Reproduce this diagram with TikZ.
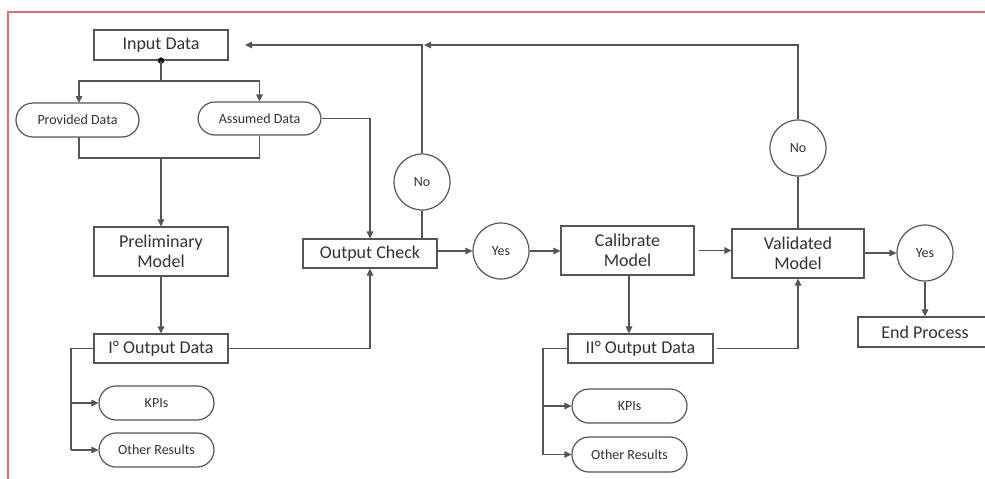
\documentclass[tikz,border=0pt]{standalone}
\usepackage{fontspec}
\setmainfont{Carlito}
\usetikzlibrary{arrows.meta}
\definecolor{lc}{RGB}{85,85,85}
\definecolor{tc}{RGB}{50,50,50}
\definecolor{fr}{RGB}{228,110,110}
\tikzset{
  every node/.style={text=tc},
  box/.style={draw=lc, line width=1.2pt, rectangle, inner sep=0pt, font=\fontsize{18}{19.5}\selectfont, align=center},
  pill/.style={draw=lc, line width=1.2pt, rectangle, rounded corners=17pt, inner sep=0pt, font=\fontsize{14}{16}\selectfont, minimum width=115pt, minimum height=34pt},
  circ/.style={draw=lc, line width=1.2pt, circle, inner sep=0pt, minimum size=56pt, font=\fontsize{14}{16}\selectfont},
  conn/.style={draw=lc, line width=1.2pt},
  arr/.style={conn, -{Triangle[length=7pt,width=6.5pt]}}
}
\begin{document}
\begin{tikzpicture}[x=1pt,y=-1pt]
\useasboundingbox (0,0) rectangle (985,479);
\clip (0,0) rectangle (985,479);
% frame
\draw[fr, line width=1.6pt] (8,479) -- (8,12) -- (990,12);
% nodes
\node[box, minimum width=134pt, minimum height=30pt] (input) at (161,45) {Input Data};
\node[pill, minimum width=123pt] (provided) at (77.5,120) {Provided Data};
\node[pill, minimum width=123pt, minimum height=33pt] (assumed) at (259.5,118.5) {Assumed Data};
\node[box, minimum width=134pt, minimum height=49pt] (prelim) at (161,251.5) {Preliminary\\Model};
\node[box, minimum width=134pt, minimum height=29pt] (out1) at (161,348.5) {I° Output Data};
\node[pill] (kpi1) at (156.5,403) {KPIs};
\node[pill] (other1) at (156.5,450) {Other Results};
\node[box, minimum width=134pt, minimum height=29pt] (check) at (370,253.5) {Output Check};
\node[circ] (no1) at (422,182) {No};
\node[circ] (yes1) at (501,251) {Yes};
\node[box, minimum width=133pt, minimum height=49pt] (calib) at (627.5,250.5) {Calibrate\\Model};
\node[box, minimum width=145pt, minimum height=29pt] (out2) at (640.5,348.5) {II° Output Data};
\node[pill] (kpi2) at (629.5,406) {KPIs};
\node[pill, minimum height=35pt] (other2) at (629.5,454.5) {Other Results};
\node[box, minimum width=132pt, minimum height=49pt] (valid) at (798,253.5) {Validated\\Model};
\node[circ] (no2) at (798,148) {No};
\node[circ] (yes2) at (925,253) {Yes};
\node[box, minimum width=134pt, minimum height=30pt] (endp) at (925,332) {End Process};
% helper coordinates
\coordinate (split) at (161,81);
\coordinate (join) at (161,158);
\coordinate (fb1) at (245,45);
\coordinate (fb2) at (424,45);
\coordinate (top1) at (422,45);
\coordinate (top2) at (798,45);
\coordinate (bus1) at (71,348.5);
\coordinate (bus2) at (543,348.5);
\coordinate (up1) at (370,348.5);
\coordinate (up2) at (798,348.5);
\coordinate (aa) at (370,118.5);
% connectors
\fill[black] (input.south) circle (3.2pt);
\draw[conn] (input.south) -- (split);
\draw[arr] (split) -| (79,103);
\draw[arr] (split) -| (assumed.north);
\draw[conn] (79,137) |- (join) -| (assumed.south);
\draw[arr] (join) -- (prelim.north);
\draw[arr] (prelim.south) -- (out1.north);
\draw[conn] (out1.west) -- (bus1) -- (bus1 |- other1.west);
\draw[arr] (bus1 |- kpi1.west) -- (kpi1.west);
\draw[arr] (bus1 |- other1.west) -- (other1.west);
\draw[arr] (out1.east) -- (up1) -- (check.south);
\draw[arr] (assumed.east) -- (aa) -- (check.north);
\draw[conn] (check.north -| no1.south) -- (no1.south);
\draw[arr] (no1.north) -- (top1) -- (fb1);
\draw[arr] (check.east |- yes1.west) -- (yes1.west);
\draw[arr] (yes1.east) -- (yes1.east -| calib.west);
\draw[arr] (calib.south -| 629,0) -- (out2.north -| 629,0);
\draw[conn] (out2.west) -- (bus2) -- (bus2 |- other2.west);
\draw[arr] (bus2 |- kpi2.west) -- (kpi2.west);
\draw[arr] (bus2 |- other2.west) -- (other2.west);
\draw[arr] ([xshift=3pt]out2.east) -- (up2) -- (valid.south);
\draw[arr] ([xshift=4pt]calib.east) -- (calib.east -| valid.west);
\draw[conn] (valid.north) -- (no2.south);
\draw[arr] (no2.north) -- (top2) -- (fb2);
\draw[arr] (valid.east |- yes2.west) -- (yes2.west);
\draw[arr] (yes2.south) -- (endp.north);
\end{tikzpicture}
\end{document}
